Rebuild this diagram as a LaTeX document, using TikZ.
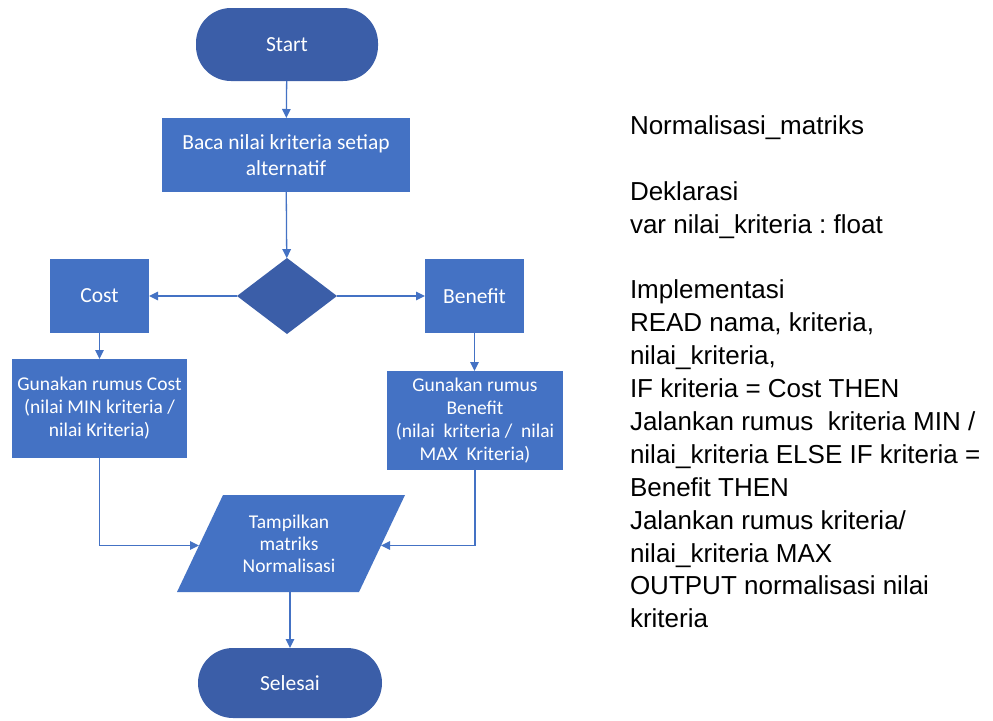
\documentclass[tikz,border=0pt]{standalone}
\usepackage{fontspec}
\setmainfont{Carlito}
\newfontfamily\arialfont{Liberation Sans}
\usetikzlibrary{arrows.meta,shapes.geometric}
\definecolor{boxblue}{RGB}{68,114,196}
\definecolor{termblue}{RGB}{59,94,168}
\definecolor{lineblue}{RGB}{68,114,196}
\frenchspacing

\begin{document}
\begin{tikzpicture}[x=1pt,y=-1pt,
  every node/.style={inner sep=0pt, outer sep=0pt},
  procbox/.style={fill=boxblue, text=white, align=center},
  termbox/.style={fill=termblue, text=white, rounded corners=35pt,
    font=\fontsize{21.5}{26}\selectfont},
  flow/.style={draw=lineblue, line width=1.3pt, -{Triangle[length=9pt,width=8.5pt]}},
  bigtext/.style={font=\fontsize{21.5}{26}\selectfont},
  smalltext/.style={font=\fontsize{19.5}{23}\selectfont},
  codeline/.style={anchor=base west, font=\arialfont\fontsize{26}{33}\selectfont, text=black}
]
\useasboundingbox (0,0) rectangle (993,720);
\fill[white] (0,0) rectangle (993,720);

% flowchart nodes
\node[termbox, minimum width=182pt, minimum height=73pt] (start) at (287,44.5) {Start};
\node[procbox, bigtext, minimum width=248pt, minimum height=74pt] (baca) at (286,155)
  {Baca nilai kriteria setiap\\alternatif};
\node[diamond, fill=termblue, minimum width=100pt, minimum height=76pt] (dec) at (287,296) {};
\node[procbox, bigtext, minimum width=99pt, minimum height=74pt] (cost) at (99.5,296) {Cost};
\node[procbox, bigtext, minimum width=99pt, minimum height=74pt] (benefit) at (474.5,296) {Benefit};
\node[procbox, smalltext, minimum width=175pt, minimum height=99pt] (rumuscost) at (99.5,408.5)
  {Gunakan rumus Cost\\(nilai MIN kriteria /\\nilai Kriteria)};
\node[procbox, font=\fontsize{19.5}{22.8}\selectfont, minimum width=176pt, minimum height=99pt]
  (rumusben) at (475,420.5)
  {Gunakan rumus\\Benefit\\(nilai\ \ kriteria /\ \ nilai\\MAX\ \ Kriteria)};

% output parallelogram
\coordinate (tl) at (223,495);
\coordinate (tr) at (405,495);
\coordinate (br) at (359,592);
\coordinate (bl) at (177,592);
\fill[boxblue] (tl) -- (tr) -- (br) -- (bl) -- cycle;
\coordinate (pl) at (199,545.5);
\coordinate (pr) at (381,545.5);
\coordinate (pb) at (290,592);
\node[text=white, align=center, font=\fontsize{19.5}{22}\selectfont] (tampil) at (289,544)
  {Tampilkan\\matriks\\Normalisasi};

\node[termbox, minimum width=184pt, minimum height=70pt] (selesai) at (290,683) {Selesai};

% connectors
\draw[flow] (start) -- (baca);
\draw[flow] (baca) -- (dec);
\draw[flow] (dec.west) -- (cost.east);
\draw[flow] (dec.east) -- (benefit.west);
\draw[flow] (cost.south) -- (rumuscost.north);
\draw[flow] (benefit.south) -- (benefit.south |- rumusben.north);
\draw[flow] (rumuscost.south) |- (pl);
\draw[flow] (rumusben.south) |- (pr);
\draw[flow] (pb) -- (selesai.north);

% pseudocode
\node[codeline] (c1) at (630,134.3) {Normalisasi\_matriks};
\node[codeline] (c2) at (630,200.1) {Deklarasi};
\node[codeline] (c3) at (630,233.0) {var nilai\_kriteria : float};
\node[codeline] (c4) at (630,298.8) {Implementasi};
\node[codeline] (c5) at (630,331.7) {READ nama, kriteria,};
\node[codeline] (c6) at (630,364.6) {nilai\_kriteria,};
\node[codeline] (c7) at (630,397.5) {IF kriteria = Cost THEN};
\node[codeline] (c8) at (630,430.4) {Jalankan rumus\ \ kriteria MIN /};
\node[codeline] (c9) at (630,463.3) {nilai\_kriteria ELSE IF kriteria =};
\node[codeline] (c10) at (630,496.2) {Benefit THEN};
\node[codeline] (c11) at (630,529.1) {Jalankan rumus kriteria/};
\node[codeline] (c12) at (630,562.0) {nilai\_kriteria MAX};
\node[codeline] (c13) at (630,594.9) {OUTPUT normalisasi nilai};
\node[codeline] (c14) at (630,627.8) {kriteria};
\end{tikzpicture}
\end{document}
